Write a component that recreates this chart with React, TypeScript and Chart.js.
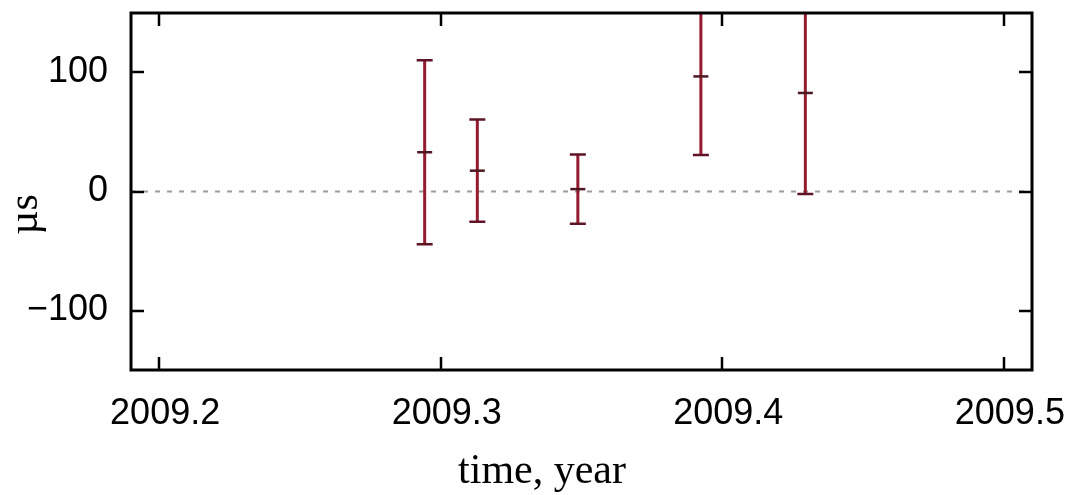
import React, { useEffect, useRef } from "react";
import { Chart, registerables } from "chart.js";

Chart.register(...registerables);

// ---- data ----
const times = [2009.2943, 2009.313, 2009.3487, 2009.3924, 2009.4295];
const residuals = [33, 17.5, 2, 96.7, 82.8];
const errors = [77.3, 43, 29, 66, 85];
const xTicks = [2009.2, 2009.3, 2009.4, 2009.5];
const yTicks = [-100, 0, 100];
const xRange = [2009.19, 2009.51];
const yRange = [-150, 150];
const xTitle = "time, year";
const yTitle = "µs";

const BAR_COLOR = "#941a30";
const CAP_COLOR = "#5e1424";
const MARK_COLOR = "#4e1820";

const errorBarPlugin = {
  id: "errorBars",
  afterDatasetsDraw(chart: any) {
    const { ctx, chartArea, scales } = chart;
    const x = scales.x;
    const y = scales.y;
    ctx.save();
    ctx.beginPath();
    ctx.rect(chartArea.left, chartArea.top, chartArea.right - chartArea.left, chartArea.bottom - chartArea.top);
    ctx.clip();
    const capHalf = 8;
    times.forEach((t, i) => {
      const px = x.getPixelForValue(t);
      const top = y.getPixelForValue(residuals[i] + errors[i]);
      const bot = y.getPixelForValue(residuals[i] - errors[i]);
      ctx.strokeStyle = BAR_COLOR;
      ctx.lineWidth = 3;
      ctx.beginPath();
      ctx.moveTo(px, top);
      ctx.lineTo(px, bot);
      ctx.stroke();
      ctx.strokeStyle = CAP_COLOR;
      ctx.lineWidth = 2.5;
      ctx.beginPath();
      ctx.moveTo(px - capHalf, top);
      ctx.lineTo(px + capHalf, top);
      ctx.moveTo(px - capHalf, bot);
      ctx.lineTo(px + capHalf, bot);
      ctx.stroke();
      const pc = y.getPixelForValue(residuals[i]);
      ctx.strokeStyle = MARK_COLOR;
      ctx.lineWidth = 2.5;
      ctx.beginPath();
      ctx.moveTo(px - 7.5, pc);
      ctx.lineTo(px + 7.5, pc);
      ctx.stroke();
    });
    ctx.restore();
  },
};

const framePlugin = {
  id: "frame",
  afterDraw(chart: any) {
    const { ctx, chartArea, scales } = chart;
    const { left, right, top, bottom } = chartArea;
    const x = scales.x;
    const y = scales.y;
    const tl = 13;
    ctx.save();
    ctx.strokeStyle = "#000";
    ctx.lineWidth = 2.5;
    ctx.beginPath();
    xTicks.forEach((v) => {
      const px = Math.round(x.getPixelForValue(v));
      ctx.moveTo(px, bottom);
      ctx.lineTo(px, bottom - tl);
      ctx.moveTo(px, top);
      ctx.lineTo(px, top + tl);
    });
    yTicks.forEach((v) => {
      const py = Math.round(y.getPixelForValue(v));
      ctx.moveTo(left, py);
      ctx.lineTo(left + tl, py);
      ctx.moveTo(right, py);
      ctx.lineTo(right - tl, py);
    });
    ctx.stroke();
    ctx.lineWidth = 3;
    ctx.strokeRect(left, top, right - left, bottom - top);

    // axis titles
    ctx.fillStyle = "#000";
    ctx.font = '42px "Liberation Serif"';
    ctx.textAlign = "center";
    ctx.textBaseline = "alphabetic";
    ctx.fillText(xTitle, chart.width / 2 + 7, bottom + 113);
    ctx.translate(37, (top + bottom) / 2 + 23);
    ctx.rotate(-Math.PI / 2);
    ctx.fillText(yTitle, 0, 0);
    ctx.restore();
  },
};

export default function App() {
  const canvasRef = useRef<HTMLCanvasElement | null>(null);

  useEffect(() => {
    if (!canvasRef.current) return;
    const chart = new Chart(canvasRef.current, {
      type: "scatter",
      data: {
        datasets: [
          {
            type: "line",
            data: [
              { x: xRange[0], y: 0 },
              { x: xRange[1], y: 0 },
            ],
            borderColor: "#9a9a9a",
            borderWidth: 2,
            borderDash: [5, 7],
            pointRadius: 0,
            fill: false,
          } as any,
          {
            data: times.map((t, i) => ({ x: t, y: residuals[i] })),
            pointStyle: "cross",
            pointRadius: 0,
            borderColor: MARK_COLOR,
            backgroundColor: MARK_COLOR,
          },
        ],
      },
      options: {
        responsive: false,
        devicePixelRatio: 1,
        animation: false,
        events: [],
        layout: { padding: { top: 13, right: 38, left: 0, bottom: 0 } },
        plugins: {
          legend: { display: false },
          tooltip: { enabled: false },
        },
        scales: {
          x: {
            type: "linear",
            min: xRange[0],
            max: xRange[1],
            afterBuildTicks: (s: any) => {
              s.ticks = xTicks.map((v) => ({ value: v }));
            },
            afterFit: (s: any) => {
              s.height = 125;
              s.paddingLeft = 0;
              s.paddingRight = 0;
              s.paddingTop = 0;
              s.paddingBottom = 0;
            },
            grid: { display: false, drawTicks: false },
            border: { display: false },
            ticks: {
              autoSkip: false,
              maxRotation: 0,
              padding: 22,
              labelOffset: 6,
              color: "#000",
              font: { family: '"Liberation Sans"', size: 36 },
              callback: (v: any) => Number(v).toFixed(1),
            },
          },
          y: {
            type: "linear",
            min: yRange[0],
            max: yRange[1],
            afterBuildTicks: (s: any) => {
              s.ticks = yTicks.map((v) => ({ value: v }));
            },
            afterFit: (s: any) => {
              s.width = 131;
              s.paddingLeft = 0;
              s.paddingRight = 0;
              s.paddingTop = 0;
              s.paddingBottom = 0;
            },
            grid: { display: false, drawTicks: false },
            border: { display: false },
            ticks: {
              autoSkip: false,
              padding: 23,
              color: "#000",
              font: { family: '"Liberation Sans"', size: 36 },
              callback: (v: any) => (Number(v) < 0 ? "\u2212" + Math.abs(Number(v)) : String(v)),
            },
          },
        },
      },
      plugins: [errorBarPlugin, framePlugin],
    });
    return () => chart.destroy();
  }, []);

  return (
    <div style={{ position: "fixed", left: 0, top: 0, width: 1070, height: 495, background: "#fff" }}>
      <canvas ref={canvasRef} width={1070} height={495} style={{ display: "block" }} />
    </div>
  );
}
